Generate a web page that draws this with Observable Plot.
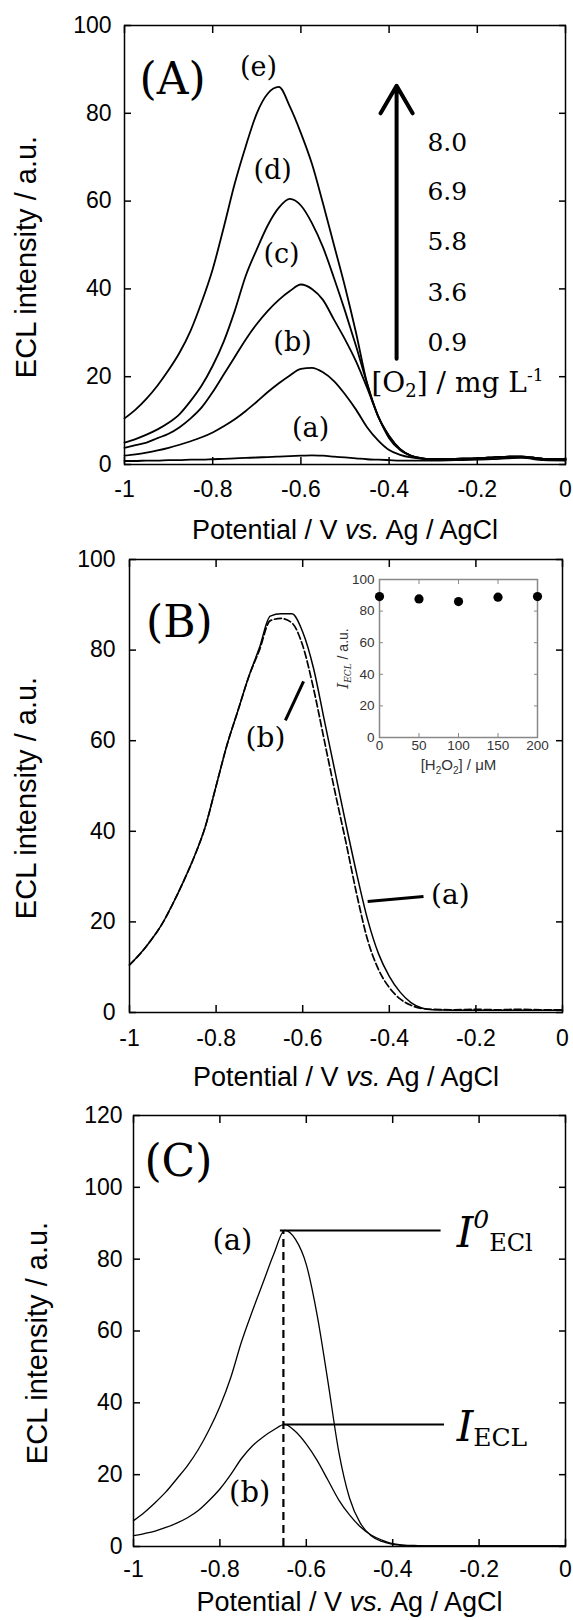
<!DOCTYPE html>
<html><head><meta charset="utf-8">
<script src="https://cdn.jsdelivr.net/npm/d3@7"></script>
<script src="https://cdn.jsdelivr.net/npm/@observablehq/plot@0.6"></script>
<style>
html,body{margin:0;padding:0;background:#fff;}
#wrap{position:relative;width:573px;height:1620px;overflow:hidden;}
#wrap > svg{display:block;}
#wrap > svg.inset{position:absolute;left:330px;top:560px;}
</style></head><body><div id="wrap"></div>
<script>
// ---------- data ----------
const xTicks = [-1, -0.8, -0.6, -0.4, -0.2, 0];
const yTicks100 = [0, 20, 40, 60, 80, 100];
const yTicks120 = [0, 20, 40, 60, 80, 100, 120];
const insetXTicks = [0, 50, 100, 150, 200];
const insetYTicks = [0, 20, 40, 60, 80, 100];

const potential = [-1, -0.975, -0.95, -0.925, -0.9, -0.875, -0.85, -0.825, -0.8, -0.775, -0.75, -0.725, -0.7, -0.675, -0.65, -0.625, -0.6, -0.575, -0.55, -0.525, -0.5, -0.475, -0.45, -0.425, -0.4, -0.375, -0.35, -0.325, -0.3, -0.25, -0.2, -0.15, -0.1, -0.05, 0];

// Panel A: O2 concentration series
const A_e = [10.5, 12.5, 15, 18, 21.5, 25.5, 30.5, 37, 44.5, 54, 64, 72.5, 80, 84.5, 86, 81.5, 75.5, 68.5, 59.5, 50, 40.5, 30, 18.5, 11, 6.5, 3.5, 2, 1.4, 1.2, 1.3, 1.4, 1.7, 1.8, 1.3, 1.2];
const A_d = [5, 5.8, 6.8, 8, 9.5, 11.5, 14.5, 18, 22.5, 28, 35, 43, 49, 54.5, 58.5, 60.5, 59, 55, 49.5, 42.5, 35, 27, 18.5, 11, 6.5, 3.5, 2, 1.4, 1.2, 1.3, 1.4, 1.7, 1.8, 1.3, 1.2];
const A_c = [3.8, 4.4, 5, 6, 7, 8.5, 10.5, 13, 16.5, 20.5, 24.5, 28.5, 32, 35, 37.5, 39.5, 41, 40, 37.5, 33, 28.5, 23.5, 17.5, 11, 6, 3.3, 2, 1.4, 1.2, 1.3, 1.4, 1.7, 1.8, 1.3, 1.2];
const A_b = [2, 2.3, 2.7, 3.2, 3.8, 4.5, 5.3, 6.2, 7.3, 8.7, 10.3, 12.2, 14.3, 16.5, 18.5, 20.3, 21.8, 22, 21, 19, 16, 12.5, 8.5, 5.5, 3.3, 2.2, 1.6, 1.3, 1.2, 1.3, 1.4, 1.7, 1.8, 1.3, 1.2];
const A_a = [0.8, 0.8, 0.9, 0.9, 1.0, 1.0, 1.1, 1.1, 1.2, 1.3, 1.4, 1.5, 1.6, 1.7, 1.8, 1.9, 2.0, 2.1, 2.0, 1.8, 1.6, 1.4, 1.2, 1.1, 1.0, 0.9, 0.9, 0.9, 0.9, 1.0, 1.1, 1.3, 1.5, 1.0, 0.9];

// Panel B: H2O2 absent (a, solid) / present (b, dashed)
const B_a = [10.5, 13, 16, 19.5, 24, 29, 34.5, 41, 50, 59, 66.5, 74, 80.5, 87.5, 88, 88, 84, 76, 64.5, 53, 41.5, 30.5, 20.5, 13, 8, 4.5, 2.2, 1, 0.6, 0.5, 0.5, 0.5, 0.5, 0.5, 0.5];
const B_b = [10.5, 13, 16, 19.5, 24, 29, 34.5, 41, 50, 59, 66.5, 74, 80, 86.5, 87, 86, 81, 71.5, 60, 48.5, 37.5, 26, 16, 9.5, 5.5, 3, 1.6, 0.9, 0.7, 0.6, 0.7, 0.6, 0.7, 0.6, 0.6];

// Panel B inset
const h2o2 = [0, 50, 100, 150, 200];
const ieclInset = [89.2, 87.7, 86, 88.8, 89.2];

// Panel C
const C_a = [7.2, 9.5, 12.2, 15.2, 18.8, 22.5, 27, 32.5, 39, 47, 57, 65.5, 73.5, 81.5, 88, 85.5, 78.5, 64.5, 46, 26.5, 13.5, 6.5, 3, 1.4, 0.6, 0.3, 0.2, 0.2, 0.2, 0.2, 0.2, 0.2, 0.2, 0.2, 0.2];
const C_b = [3, 3.6, 4.3, 5.3, 6.5, 8, 10, 12.8, 16, 20, 24.5, 28, 30.5, 32.5, 34, 32, 28.5, 24, 18.5, 13, 8.8, 5.5, 3.2, 1.8, 0.8, 0.4, 0.3, 0.2, 0.2, 0.2, 0.2, 0.2, 0.2, 0.2, 0.2];
const peakPotentialC = -0.653;
const peakI0 = 88;
const peakI = 34;

// text
const xTitle = "Potential / V vs. Ag / AgCl";
const yTitle = "ECL intensity / a.u.";

// annotation anchors (data units)
const curveLabelsA = ["(e)", "(d)", "(c)", "(b)", "(a)"];
const curveLabelXA = [-0.696, -0.664, -0.644, -0.619, -0.578];
const curveLabelYA = [90.4, 67, 47.8, 27.8, 8.2];
const o2Values = ["8.0", "6.9", "5.8", "3.6", "0.9"];
const o2LabelY = [73.3, 62.0, 50.6, 39.0, 27.6];
const o2LabelX = -0.268;
const o2Unit = "[O2] / mg L-1";
const arrowA = {x: -0.383, y1: 24.1, y2: 86.3};

const curveLabelsB = ["(b)", "(a)"];
const curveLabelXB = [-0.686, -0.259];
const curveLabelYB = [60.5, 26.0];
const leaderX1B = [-0.640, -0.450], leaderY1B = [64.5, 24.5];
const leaderX2B = [-0.598, -0.321], leaderY2B = [73.1, 25.6];

const curveLabelsC = ["(a)", "(b)"];
const curveLabelXC = [-0.771, -0.731];
const curveLabelYC = [85.2, 15];
const peakLineEndC = [-0.288, -0.28];
const peakLineStartC = [-0.66, -0.653];

// ---------- helpers ----------
const SANS = "Liberation Sans, Arial, Helvetica, sans-serif";
const SERIF = "DejaVu Serif, serif";
const NS = "http://www.w3.org/2000/svg";

function rows(named) {
  return named.flatMap(([k, arr]) => potential.map((v, i) => ({V: v, I: arr[i], s: k})));
}
function labelRows(t, xs, ys) { return t.map((d, i) => ({t: d, x: xs[i], y: ys[i]})); }

function rich(svg, key, parts) {
  svg.querySelectorAll("text").forEach(t => {
    if (t.textContent !== key) return;
    t.textContent = "";
    let shift = 0;
    for (const p of parts) {
      const ts = document.createElementNS(NS, "tspan");
      ts.textContent = p.t;
      const target = p.dy || 0;
      if (target !== shift) { ts.setAttribute("dy", target - shift); shift = target; }
      if (p.size) ts.setAttribute("font-size", p.size);
      if (p.italic) ts.setAttribute("font-style", "italic");
      if (p.family) ts.setAttribute("font-family", p.family);
      t.appendChild(ts);
    }
  });
}

function frameMarks(o) {
  return [
    Plot.axisX(xTicks, {anchor: "bottom", tickSize: -7, tickPadding: o.xPad, tickFormat: d => String(d), label: null, strokeWidth: 1.5, fontSize: 23}),
    Plot.axisX(xTicks, {anchor: "top", tickSize: -7, tickFormat: () => "", label: null, strokeWidth: 1.5}),
    Plot.axisY(o.yTicks, {anchor: "left", tickSize: -7, tickPadding: o.yPad, tickFormat: d => String(d), label: null, strokeWidth: 1.5, fontSize: 23}),
    Plot.axisY(o.yTicks, {anchor: "right", tickSize: -7, tickFormat: () => "", label: null, strokeWidth: 1.5}),
    Plot.frame({stroke: "black", strokeWidth: 1.5}),
    Plot.text([yTitle], {text: d => d, frameAnchor: "left", textAnchor: "middle", lineAnchor: "middle", rotate: -90, dx: o.yDx, dy: 12, fontSize: 29, fontFamily: SANS}),
    Plot.text([xTitle], {text: d => d, frameAnchor: "bottom", textAnchor: "middle", lineAnchor: "middle", dy: o.xDy, fontSize: 27, fontFamily: SANS})
  ];
}

const baseStyle = {fontFamily: SANS, fontSize: "23px", color: "black", background: "white", overflow: "visible"};
const wrap = document.getElementById("wrap");

function finish(svg) {
  rich(svg, xTitle, [{t: "Potential / V "}, {t: "vs.", italic: true}, {t: " Ag / AgCl"}]);
  wrap.appendChild(svg);
  return svg;
}

// ---------- Panel A ----------
const svgA = Plot.plot({
  width: 573, height: 545,
  marginLeft: 124, marginRight: 8, marginTop: 25, marginBottom: 81,
  x: {domain: [-1, 0]}, y: {domain: [0, 100]},
  style: baseStyle,
  marks: [
    Plot.line(rows([["a", A_a], ["b", A_b], ["c", A_c], ["d", A_d], ["e", A_e]]), {x: "V", y: "I", z: "s", stroke: "black", strokeWidth: 1.8, curve: "monotone-x"}),
    ...frameMarks({yTicks: yTicks100, xPad: 23, yPad: 20, yDx: -98, xDy: 66}),
    Plot.text(["(A)"], {text: d => d, x: -0.891, y: 87.5, fontFamily: SERIF, fontSize: 44}),
    Plot.text(labelRows(curveLabelsA, curveLabelXA, curveLabelYA), {text: "t", x: "x", y: "y", fontFamily: SERIF, fontSize: 27}),
    Plot.text(o2Values.map((t, i) => ({t, y: o2LabelY[i]})), {text: "t", x: o2LabelX, y: "y", fontFamily: SERIF, fontSize: 25}),
    Plot.text([o2Unit], {text: d => d, x: -0.245, y: 18.5, fontFamily: SERIF, fontSize: 28}),
    Plot.arrow([arrowA], {x1: "x", x2: "x", y1: "y1", y2: "y2", stroke: "black", strokeWidth: 4, headAngle: 60, headLength: 12})
  ]
});
rich(svgA, o2Unit, [{t: "[O"}, {t: "2", size: 18, dy: 5}, {t: "] / mg L"}, {t: "-1", size: 17, dy: -11}]);
finish(svgA);

// ---------- Panel B ----------
const svgB = Plot.plot({
  width: 573, height: 550,
  marginLeft: 129, marginRight: 11, marginTop: 14, marginBottom: 83,
  x: {domain: [-1, 0]}, y: {domain: [0, 100]},
  style: baseStyle,
  marks: [
    Plot.line(rows([["a", B_a]]), {x: "V", y: "I", stroke: "black", strokeWidth: 1.5, curve: "monotone-x"}),
    Plot.line(rows([["b", B_b]]), {x: "V", y: "I", stroke: "black", strokeWidth: 1.7, strokeDasharray: "7,3", curve: "monotone-x"}),
    ...frameMarks({yTicks: yTicks100, xPad: 24, yPad: 21, yDx: -103, xDy: 65}),
    Plot.text(["(B)"], {text: d => d, x: -0.885, y: 85.9, fontFamily: SERIF, fontSize: 44}),
    Plot.text(labelRows(curveLabelsB, curveLabelXB, curveLabelYB), {text: "t", x: "x", y: "y", fontFamily: SERIF, fontSize: 28}),
    Plot.link(leaderX1B.map((x, i) => ({x1: x, y1: leaderY1B[i], x2: leaderX2B[i], y2: leaderY2B[i]})), {x1: "x1", y1: "y1", x2: "x2", y2: "y2", stroke: "black", strokeWidth: 3})
  ]
});
finish(svgB);

// inset
const svgIn = Plot.plot({
  width: 235, height: 220,
  marginLeft: 49, marginRight: 28, marginTop: 19, marginBottom: 43,
  x: {domain: [0, 200]}, y: {domain: [0, 100]},
  style: {fontFamily: SANS, fontSize: "13.5px", color: "#333", background: "transparent", overflow: "visible"},
  marks: [
    Plot.axisX(insetXTicks, {anchor: "bottom", tickSize: -4, tickPadding: 7, label: null, stroke: "#888", fill: "#333", tickFormat: d => String(d)}),
    Plot.axisX(insetXTicks, {anchor: "top", tickSize: -4, label: null, stroke: "#888", tickFormat: () => ""}),
    Plot.axisY(insetYTicks, {anchor: "left", tickSize: -4, tickPadding: 9, label: null, stroke: "#888", fill: "#333", tickFormat: d => String(d)}),
    Plot.axisY(insetYTicks, {anchor: "right", tickSize: -4, label: null, stroke: "#888", tickFormat: () => ""}),
    Plot.frame({stroke: "#888", strokeWidth: 1.5}),
    Plot.dot(h2o2.map((x, i) => ({x, y: ieclInset[i]})), {x: "x", y: "y", r: 4.6, fill: "black"}),
    Plot.text(["IECL / a.u."], {text: d => d, frameAnchor: "left", textAnchor: "middle", lineAnchor: "middle", rotate: -90, dx: -36, fontSize: 14, fill: "#333"}),
    Plot.text(["[H2O2] / μM"], {text: d => d, frameAnchor: "bottom", textAnchor: "middle", lineAnchor: "middle", dy: 28, fontSize: 15, fill: "#333"})
  ]
});
rich(svgIn, "IECL / a.u.", [{t: "I", italic: true, family: SERIF, size: 15}, {t: "ECL", italic: true, family: SERIF, size: 9, dy: 3}, {t: " / a.u.", size: 14}]);
rich(svgIn, "[H2O2] / μM", [{t: "[H"}, {t: "2", size: 10, dy: 4}, {t: "O"}, {t: "2", size: 10, dy: 4}, {t: "] / μM"}]);
wrap.appendChild(svgIn);
svgIn.classList.add("inset");

// ---------- Panel C ----------
const svgC = Plot.plot({
  width: 573, height: 525,
  marginLeft: 133, marginRight: 8, marginTop: 20, marginBottom: 74,
  x: {domain: [-1, 0]}, y: {domain: [0, 120]},
  style: baseStyle,
  marks: [
    Plot.line(rows([["a", C_a], ["b", C_b]]), {x: "V", y: "I", z: "s", stroke: "black", strokeWidth: 1.3, curve: "monotone-x"}),
    Plot.ruleX([peakPotentialC], {x: d => d, y1: 0, y2: peakI0, stroke: "black", strokeWidth: 2.2, strokeDasharray: "8,5"}),
    Plot.ruleY([peakI0, peakI].map((v, i) => ({v, x1: peakLineStartC[i], x2: peakLineEndC[i]})), {y: "v", x1: "x1", x2: "x2", stroke: "black", strokeWidth: 2}),
    ...frameMarks({yTicks: yTicks120, xPad: 21, yPad: 18, yDx: -96, xDy: 56}),
    Plot.text(["(C)"], {text: d => d, x: -0.896, y: 107, fontFamily: SERIF, fontSize: 44}),
    Plot.text(labelRows(curveLabelsC, curveLabelXC, curveLabelYC), {text: "t", x: "x", y: "y", fontFamily: SERIF, fontSize: 29}),
    Plot.text(["I0ECl"], {text: d => d, x: -0.252, y: 83.3, textAnchor: "start", lineAnchor: "bottom", fontFamily: SERIF, fontSize: 42}),
    Plot.text(["IECL"], {text: d => d, x: -0.252, y: 29.5, textAnchor: "start", lineAnchor: "bottom", fontFamily: SERIF, fontSize: 42})
  ]
});
rich(svgC, "I0ECl", [{t: "I", italic: true}, {t: "0", italic: true, size: 25, dy: -19}, {t: "ECl", size: 24, dy: 4}]);
rich(svgC, "IECL", [{t: "I", italic: true}, {t: "ECL", size: 25, dy: 5}]);
finish(svgC);
</script></body></html>
